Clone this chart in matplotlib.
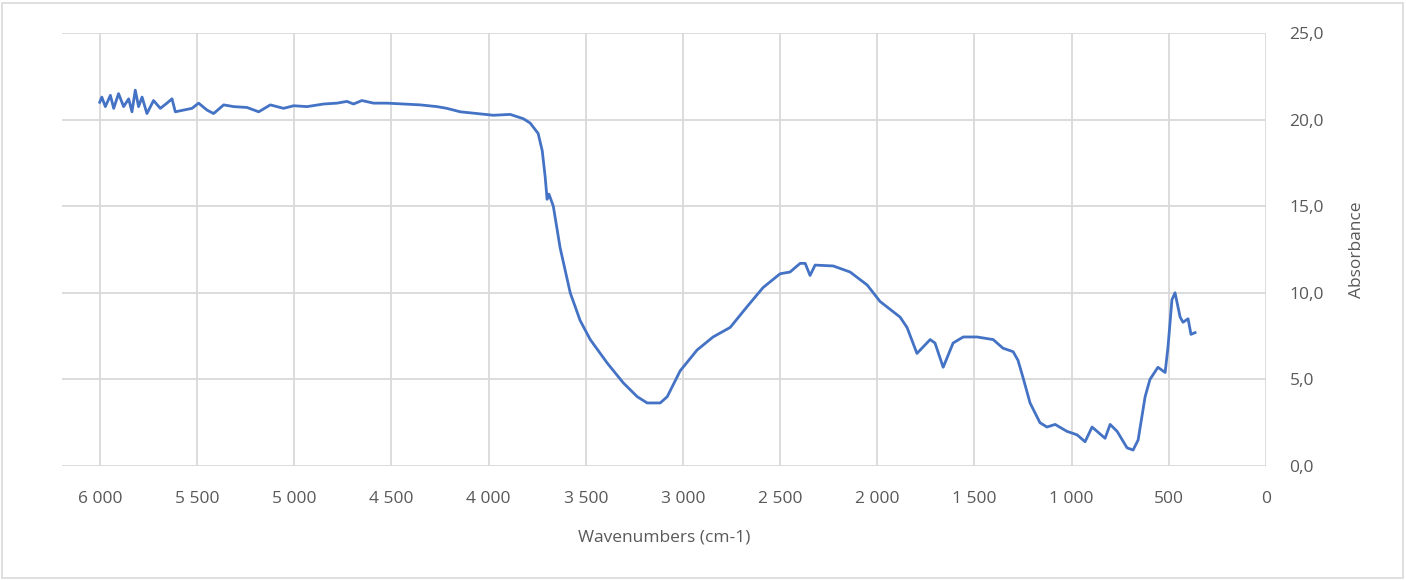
import matplotlib.pyplot as plt
from matplotlib.ticker import FuncFormatter
from matplotlib.patches import Rectangle

# FTIR spectrum
wavenumber = [6001, 5990, 5972, 5946, 5929, 5904, 5878, 5852, 5835, 5818,
              5801, 5783, 5758, 5724, 5689, 5655, 5629, 5612, 5569, 5526,
              5492, 5449, 5415, 5363, 5312, 5243, 5183, 5123, 5055, 5003,
              4934, 4849, 4780, 4729, 4695, 4652, 4592, 4523, 4438, 4352,
              4266, 4215, 4146, 4060, 3975, 3889, 3821, 3786, 3745, 3724,
              3709, 3699, 3690, 3683, 3667, 3632, 3580, 3529, 3477, 3390,
              3307, 3235, 3184, 3117, 3081, 3014, 2927, 2845, 2757, 2670,
              2588, 2500, 2449, 2397, 2371, 2346, 2320, 2227, 2140, 2052,
              1986, 1883, 1847, 1796, 1728, 1703, 1661, 1610, 1558, 1487,
              1404, 1353, 1301, 1276, 1250, 1214, 1163, 1127, 1085, 1024,
              972, 931, 895, 828, 802, 766, 715, 684, 658, 622,
              597, 556, 519, 504, 484, 468, 442, 427, 401, 386, 365]
absorbance = [21.0, 21.3, 20.75, 21.4, 20.65, 21.5, 20.75, 21.2, 20.45, 21.7,
              20.75, 21.3, 20.35, 21.1, 20.65, 20.95, 21.2, 20.45, 20.55, 20.65,
              20.95, 20.55, 20.35, 20.85, 20.75, 20.7, 20.45, 20.85, 20.65, 20.8,
              20.75, 20.9, 20.95, 21.05, 20.9, 21.1, 20.95, 20.95, 20.9, 20.85,
              20.75, 20.65, 20.45, 20.35, 20.25, 20.3, 20.05, 19.8, 19.2, 18.2,
              16.7, 15.4, 15.7, 15.5, 15.0, 12.6, 10.0, 8.4, 7.3, 5.95,
              4.8, 4.0, 3.64, 3.64, 4.0, 5.5, 6.7, 7.45, 8.0, 9.2,
              10.3, 11.1, 11.2, 11.7, 11.7, 11.0, 11.6, 11.55, 11.2, 10.45,
              9.5, 8.6, 8.0, 6.5, 7.3, 7.1, 5.7, 7.1, 7.45, 7.45,
              7.3, 6.8, 6.6, 6.1, 5.1, 3.64, 2.5, 2.25, 2.4, 2.0,
              1.8, 1.4, 2.25, 1.6, 2.4, 2.0, 1.05, 0.92, 1.5, 4.0,
              5.0, 5.7, 5.4, 6.9, 9.6, 10.0, 8.6, 8.3, 8.5, 7.6, 7.7]

xticks = [6000, 5500, 5000, 4500, 4000, 3500, 3000, 2500, 2000, 1500, 1000, 500, 0]
yticks = [0, 5, 10, 15, 20, 25]

plt.rcParams['font.family'] = ['Open Sans', 'DejaVu Sans']

fig = plt.figure(figsize=(14.06, 5.8), dpi=100)
ax = fig.add_axes([62 / 1406, 114 / 580, 1204 / 1406, 433 / 580])

ax.plot(wavenumber, absorbance, color='#4472C4', linewidth=2.0, zorder=3)

ax.set_xlim(6195, 0)
ax.set_ylim(0, 25)
ax.set_xticks(xticks)
ax.set_yticks(yticks)
ax.xaxis.set_major_formatter(FuncFormatter(lambda v, p: f"{int(v):,}".replace(",", " ")))
ax.yaxis.set_major_formatter(FuncFormatter(lambda v, p: f"{v:.1f}".replace(".", ",")))
ax.yaxis.tick_right()
ax.yaxis.set_label_position('right')

ax.grid(True, color='#D9D9D9', linewidth=1.3, zorder=0)
for s in ax.spines.values():
    s.set_visible(False)
ax.tick_params(length=0, labelsize=12.5, labelcolor='#595959')
ax.tick_params(axis='x', pad=18)
ax.tick_params(axis='y', pad=17)

ax.set_xlabel('Wavenumbers (cm-1)', fontsize=12.5, color='#595959', labelpad=16)
ax.set_ylabel('Absorbance', fontsize=12.5, color='#595959', labelpad=18, rotation=90)

fig.patches.append(Rectangle((2 / 1406, 2 / 580), 1401 / 1406, 575 / 580,
                             transform=fig.transFigure, fill=False,
                             edgecolor='#D9D9D9', linewidth=1.2))

fig.savefig('out.png', dpi=100)
